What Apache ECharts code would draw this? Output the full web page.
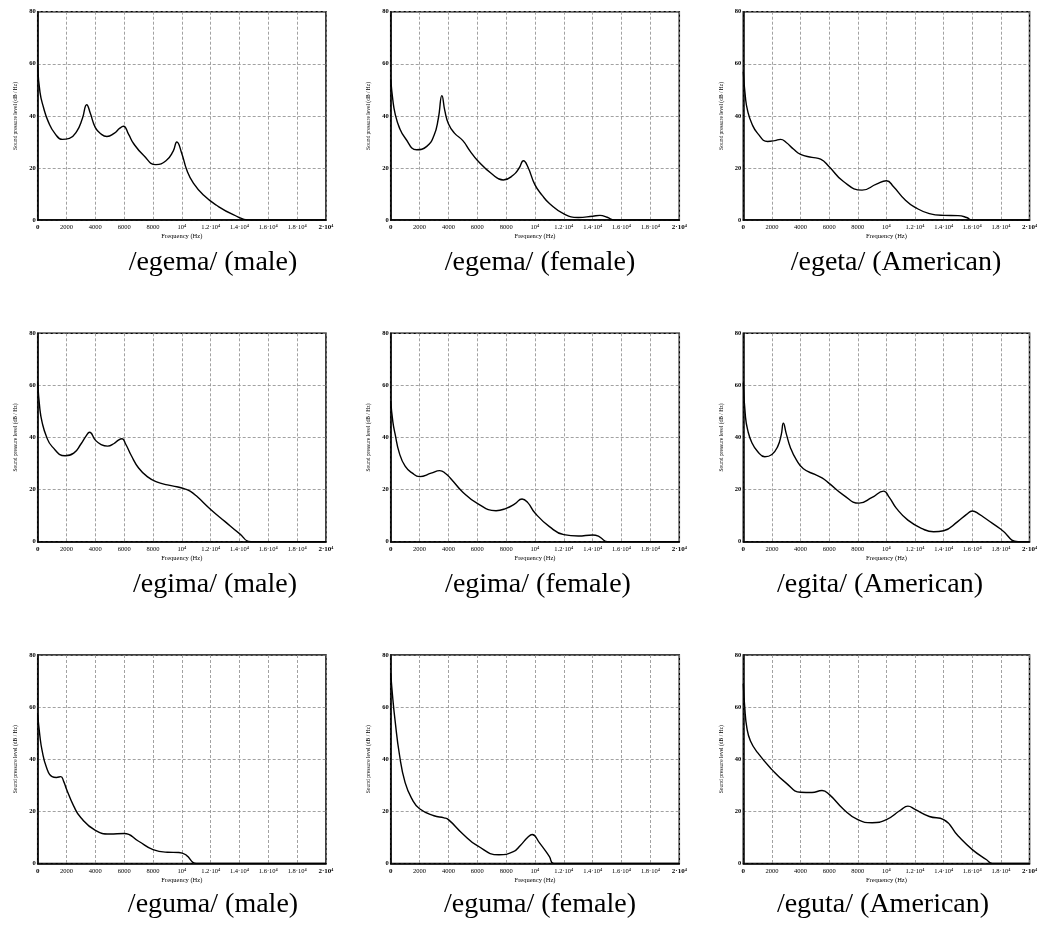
<!DOCTYPE html>
<html>
<head>
<meta charset="utf-8">
<script src="https://cdn.jsdelivr.net/npm/echarts@6/dist/echarts.min.js"></script>
<style>
  body{margin:0;background:#fff;}
  #chart{width:1040px;height:928px;}
</style>
</head>
<body>
<div id="chart"></div>
<script>
// frequency axis labels, one per 2000 Hz
var freqTicks = ['0','2000','4000','6000','8000','10⁴','1.2·10⁴','1.4·10⁴','1.6·10⁴','1.8·10⁴','2·10⁴'];

// spectra: [frequency (Hz), level (dB/Hz)]
var egemaMale = [[0,59],[160,49],[390,43.5],[740,37.7],[1200,33.2],[1700,31],[2200,31.4],[2700,34],[3100,39],[3400,44.3],[3650,41],[4000,35.5],[4400,33],[4800,32.1],[5300,33.3],[5700,35.3],[5950,36],[6300,33],[6650,29.4],[7340,24.9],[8200,21.3],[8900,22.8],[9400,26.5],[9650,30],[10000,25.5],[10350,19.1],[10800,14.2],[11500,9.6],[12400,5.7],[13600,2],[14700,0],[20000,0]];
var egemaFemale = [[0,54],[150,46],[300,41],[600,35.5],[1000,31.5],[1800,27],[2500,28.3],[3000,32.5],[3300,39],[3550,47.8],[3750,42],[4000,37],[4400,33.5],[5000,30.5],[5500,26.5],[6000,23],[7000,17.8],[7800,15.4],[8500,17.3],[8900,20],[9200,22.8],[9500,20.5],[10000,13.5],[10500,9.5],[11000,6.4],[12000,2.4],[13000,1],[14000,1.5],[14500,1.8],[15000,1.1],[15500,0],[20000,0]];
var egetaAmerican = [[0,57],[150,47],[300,42],[600,37],[1000,33.3],[1700,30.2],[2200,30.5],[2600,31],[3000,29.8],[3500,27.3],[4000,25.2],[4800,24.1],[5400,23.4],[6000,20.5],[7000,14.8],[8300,11.5],[9300,13.8],[10000,15.1],[10500,12.8],[11300,7.8],[12000,4.9],[13000,2.5],[14000,1.8],[15000,1.7],[15600,1],[16000,0],[20000,0]];
var egimaMale = [[0,61],[150,51],[300,46],[600,40.5],[1000,36.5],[1900,33],[2500,34],[3000,37.5],[3350,40.5],[3600,42],[4000,39],[4400,37.3],[4850,36.7],[5300,37.7],[5600,39],[5850,39.5],[6100,37.5],[6500,33],[7000,28.3],[7600,25],[8250,23],[9000,21.8],[9650,21.1],[10200,20.3],[10600,19.3],[11000,17.6],[12000,12.4],[13000,7.7],[14000,3.1],[14800,0],[20000,0]];
var egimaFemale = [[0,54],[150,46],[300,41.5],[600,34],[1000,29],[1500,26.3],[2000,25],[2800,26.3],[3400,27.3],[3800,26.2],[4200,24],[5000,19],[6000,14.7],[7300,11.9],[8000,12.8],[8600,14.5],[9100,16.4],[9500,15],[10000,11],[11000,5.8],[12000,2.7],[13000,2.2],[14000,2.6],[14500,1.8],[15000,0],[20000,0]];
var egitaAmerican = [[0,61],[150,48],[300,43],[600,38],[1000,34.6],[1500,32.6],[2000,33.5],[2400,36.5],[2650,41],[2800,45.5],[3000,41.5],[3300,36],[3700,31.5],[4200,28],[5000,25.8],[5500,24.5],[6000,22.4],[7000,17.9],[8100,14.8],[9000,17],[9800,19.4],[10200,17],[10700,12.8],[11500,8.3],[12500,5],[13300,3.8],[14000,4.2],[15000,7.8],[15600,10.5],[16000,11.8],[16500,10.5],[17000,8.6],[18000,4.8],[19200,0],[20000,0]];
var egumaMale = [[0,57],[150,49],[300,43.5],[600,37],[1000,33.3],[1300,33],[1600,33.3],[1800,31.5],[2000,28.5],[2500,22],[3000,17.5],[4000,12.7],[5000,11.3],[6000,11.5],[7000,8.5],[8000,5.3],[9000,4.3],[9800,4.2],[10300,3.2],[11000,0],[20000,0]];
var egumaFemale = [[0,73],[150,63],[300,55],[600,42],[1000,31],[1500,24.5],[2000,21],[3000,18.3],[3700,17.5],[4000,16.8],[5000,11.3],[6000,6.8],[7500,3.3],[8500,4.5],[9000,7],[9500,10],[9800,11.1],[10300,8],[11000,2.6],[11300,0],[20000,0]];
var egutaAmerican = [[0,69],[100,60],[250,52],[500,47],[1000,42.5],[2000,36],[3000,30.8],[4000,27.3],[4800,27.2],[5500,28],[6000,26.5],[7000,20.8],[8000,16.8],[9000,15.6],[10000,16.8],[11000,20.5],[11500,22],[12000,20.7],[13000,18],[14000,16.8],[15000,10.6],[16000,5.3],[17000,1.4],[17400,0],[20000,0]];

var panelData = [egemaMale, egemaFemale, egetaAmerican,
                 egimaMale, egimaFemale, egitaAmerican,
                 egumaMale, egumaFemale, egutaAmerican];
var panelTitles = ['/egema/ (male)', '/egema/ (female)', '/egeta/ (American)',
                   '/egima/ (male)', '/egima/ (female)', '/egita/ (American)',
                   '/eguma/ (male)', '/eguma/ (female)', '/eguta/ (American)'];

// layout
var colLeft = [37.7, 390.7, 743.3];
var colWidth = [288.3, 288.6, 289];
var rowTop = [11.7, 333.3, 655];
var rowHeight = 208.4;
var titleX = [[213, 540, 896], [215, 538, 880], [213, 540, 883]];
var titleY = [263, 585, 905];

var serif = 'Liberation Serif';
var grids = [], xAxes = [], yAxes = [], series = [], texts = [];

for (var i = 0; i < 9; i++) {
    var r = Math.floor(i / 3), c = i % 3;
    grids.push({
        left: colLeft[c], top: rowTop[r], width: colWidth[c], height: rowHeight,
        show: true, borderColor: '#000', borderWidth: 1.5, backgroundColor: 'transparent'
    });
    xAxes.push({
        gridIndex: i, type: 'value', min: 0, max: 20000, interval: 2000,
        name: 'Frequency (Hz)', nameLocation: 'middle', nameGap: 13,
        nameTextStyle: {fontFamily: serif, fontSize: 6.5, color: '#000'},
        axisLine: {onZero: false, lineStyle: {color: '#000', width: 1.5}},
        axisTick: {show: false},
        axisLabel: {
            margin: 4, fontSize: 6.5, fontFamily: serif, color: '#000',
            formatter: function (v) {
                var s = freqTicks[Math.round(v / 2000)];
                return (v === 0 || v === 20000) ? '{b|' + s + '}' : s;
            },
            rich: {b: {fontWeight: 'bold', fontSize: 7, fontFamily: serif, color: '#000'}}
        },
        splitLine: {show: true, lineStyle: {color: '#8a8a8a', type: [3, 2], width: 0.8}}
    });
    yAxes.push({
        gridIndex: i, type: 'value', min: 0, max: 80, interval: 20,
        name: 'Sound pressure level (dB / Hz)', nameLocation: 'middle', nameGap: 19,
        nameTextStyle: {fontFamily: serif, fontSize: 5.5, color: '#000'},
        axisLine: {onZero: false, lineStyle: {color: '#000', width: 1.5}},
        axisTick: {show: false},
        axisLabel: {margin: 2, fontSize: 6.5, fontWeight: 'bold', fontFamily: serif, color: '#000'},
        splitLine: {show: true, lineStyle: {color: '#8a8a8a', type: [3, 2], width: 0.8}}
    });
    series.push({
        type: 'line', xAxisIndex: i, yAxisIndex: i,
        data: panelData[i], showSymbol: false, smooth: 0.5, clip: true,
        lineStyle: {color: '#000', width: 1.4}
    });
    texts.push({
        type: 'text', x: titleX[r][c], y: titleY[r],
        style: {text: panelTitles[i], fontSize: 28, fontFamily: serif, fill: '#000',
                align: 'center', verticalAlign: 'middle'}
    });
}

var myChart = echarts.init(document.getElementById('chart'));
myChart.setOption({
    animation: false,
    grid: grids,
    xAxis: xAxes,
    yAxis: yAxes,
    series: series,
    graphic: texts
});
</script>
</body>
</html>
